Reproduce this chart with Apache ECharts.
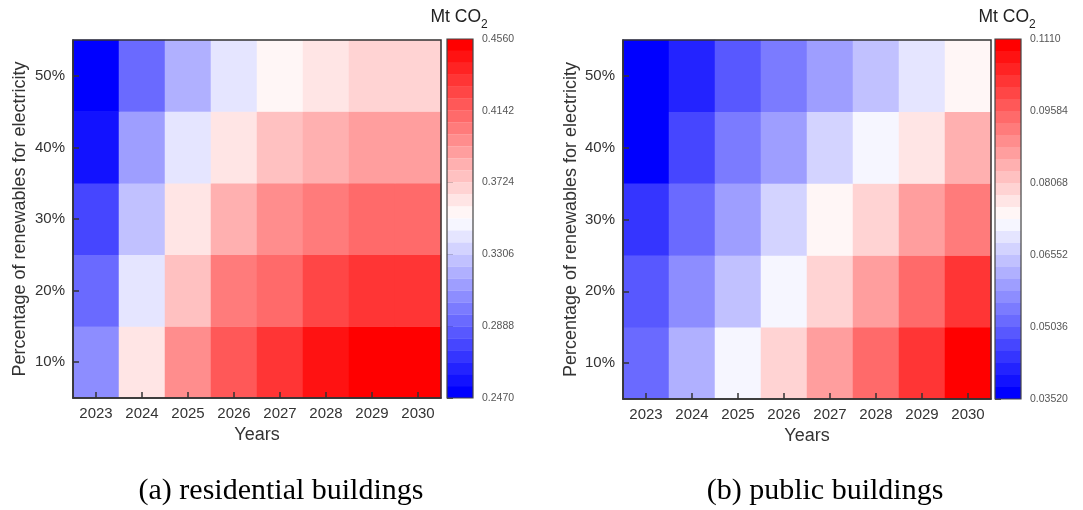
<!DOCTYPE html>
<html>
<head>
<meta charset="utf-8">
<title>Emissions heatmaps</title>
<script src="https://cdn.jsdelivr.net/npm/echarts@6/dist/echarts.min.js"></script>
<style>
  html, body { margin: 0; padding: 0; background: #fff; }
  #chart { width: 1083px; height: 510px; }
</style>
</head>
<body>
<div id="chart"></div>
<script>
// Categories
const years = ['2023', '2024', '2025', '2026', '2027', '2028', '2029', '2030'];
const shares = ['10%', '20%', '30%', '40%', '50%'];

// Residential buildings, Mt CO2, one array per renewables share (2023..2030)
const res10 = [0.3062, 0.3620, 0.3968, 0.4177, 0.4316, 0.4456, 0.4525, 0.4540];
const res20 = [0.2923, 0.3411, 0.3759, 0.4038, 0.4107, 0.4247, 0.4316, 0.4330];
const res30 = [0.2784, 0.3271, 0.3620, 0.3829, 0.3968, 0.4038, 0.4107, 0.4120];
const res40 = [0.2575, 0.3132, 0.3411, 0.3620, 0.3759, 0.3829, 0.3898, 0.3910];
const res50 = [0.2475, 0.2923, 0.3202, 0.3411, 0.3550, 0.3620, 0.3689, 0.3700];

// Public buildings, Mt CO2
const pub10 = [0.0516, 0.0617, 0.0718, 0.0794, 0.0870, 0.0946, 0.1022, 0.1100];
const pub20 = [0.0491, 0.0567, 0.0643, 0.0718, 0.0794, 0.0870, 0.0946, 0.1022];
const pub30 = [0.0440, 0.0516, 0.0592, 0.0668, 0.0744, 0.0794, 0.0870, 0.0921];
const pub40 = [0.0366, 0.0466, 0.0542, 0.0592, 0.0668, 0.0718, 0.0769, 0.0845];
const pub50 = [0.0360, 0.0415, 0.0491, 0.0542, 0.0592, 0.0643, 0.0693, 0.0744];

// Colour-scale ranges and tick labels
const resRange = [0.2470, 0.4560];
const pubRange = [0.03520, 0.1110];
const resTicks = ['0.2470', '0.2888', '0.3306', '0.3724', '0.4142', '0.4560'];
const pubTicks = ['0.03520', '0.05036', '0.06552', '0.08068', '0.09584', '0.1110'];

const LEVELS = 30;
const FONT = 'Liberation Sans, Arial, sans-serif';

function toCells(rows) {
  const out = [];
  rows.forEach((row, yi) => row.forEach((v, xi) => out.push([xi, yi, v])));
  return out;
}

// Blue - white - red diverging map, split into discrete levels
function levelColor(k) {
  const t = k / (LEVELS - 1);
  let r, g, b;
  if (t < 0.5) {
    const s = t / 0.5;
    r = Math.round(255 * s); g = r; b = 255;
  } else {
    const s = (1 - t) / 0.5;
    r = 255; g = Math.round(255 * s); b = g;
  }
  return 'rgb(' + r + ',' + g + ',' + b + ')';
}

function pieces(range) {
  const step = (range[1] - range[0]) / LEVELS;
  const list = [];
  for (let k = 0; k < LEVELS; k++) {
    const p = { gte: range[0] + k * step, color: levelColor(k) };
    if (k === LEVELS - 1) p.lte = range[1]; else p.lt = range[0] + (k + 1) * step;
    list.push(p);
  }
  return list;
}

// Panel geometry
const panels = [
  { left: 73, top: 40, width: 368, height: 358, barLeft: 447, barTop: 39, barH: 359 },
  { left: 623, top: 40, width: 368, height: 359, barLeft: 995, barTop: 39, barH: 360 }
];
const BAR_W = 26;

const resData = toCells([res10, res20, res30, res40, res50]);
const pubData = toCells([pub10, pub20, pub30, pub40, pub50]);

const grids = [], xAxes = [], yAxes = [], series = [], visualMaps = [], graphics = [];

const tickStyle = { show: true, inside: true, alignWithLabel: true, length: 6,
  lineStyle: { color: '#333', width: 1.5 } };

[[resData, resRange, resTicks, 44], [pubData, pubRange, pubTicks, 43]].forEach((cfg, i) => {
  const [data, range, ticks, yGap] = cfg;
  const p = panels[i];
  // heatmap grid (frame drawn on the upper layer)
  grids.push({ left: p.left, top: p.top, width: p.width, height: p.height,
    show: true, zlevel: 1, backgroundColor: 'transparent', borderColor: '#333', borderWidth: 1.5 });
  // colour bar tick grid
  grids.push({ left: p.barLeft, top: p.barTop, width: BAR_W, height: p.barH, show: false });

  xAxes.push({
    gridIndex: 2 * i, type: 'category', data: years, zlevel: 1,
    name: 'Years', nameLocation: 'middle', nameGap: 27,
    nameTextStyle: { fontFamily: FONT, fontSize: 18, color: '#333' },
    axisLine: { show: true, lineStyle: { color: '#333', width: 1.5 } },
    axisTick: tickStyle,
    axisLabel: { fontFamily: FONT, fontSize: 15, color: '#333', margin: 8 },
    splitLine: { show: false }
  });
  xAxes.push({ gridIndex: 2 * i + 1, type: 'value', show: false, min: 0, max: 1 });

  yAxes.push({
    gridIndex: 2 * i, type: 'category', data: shares, zlevel: 1,
    name: 'Percentage of renewables for electricity', nameLocation: 'middle', nameGap: yGap,
    nameTextStyle: { fontFamily: FONT, fontSize: 18, color: '#333' },
    axisLine: { show: true, lineStyle: { color: '#333', width: 1.5 } },
    axisTick: tickStyle,
    axisLabel: { fontFamily: FONT, fontSize: 15, color: '#333', margin: 8 },
    splitLine: { show: false }
  });
  yAxes.push({
    gridIndex: 2 * i + 1, type: 'value', min: 0, max: ticks.length - 1, interval: 1,
    position: 'right',
    axisLine: { show: false },
    axisTick: { show: true, length: 6, lineStyle: { color: '#555', width: 1 } },
    axisLabel: { fontFamily: FONT, fontSize: 10.5, color: '#555', margin: 9,
      formatter: (v) => ticks[Math.round(v)] },
    splitLine: { show: false }
  });

  series.push({
    type: 'heatmap', xAxisIndex: 2 * i, yAxisIndex: 2 * i, data: data, z: 1,
    emphasis: { disabled: true }, itemStyle: { borderWidth: 0 }
  });

  visualMaps.push({
    type: 'piecewise', seriesIndex: i, dimension: 2,
    pieces: pieces(range), orient: 'vertical',
    left: p.barLeft, top: p.barTop, padding: 0,
    itemWidth: BAR_W, itemHeight: p.barH / LEVELS, itemGap: 0,
    itemSymbol: 'rect', showLabel: false, selectedMode: false, hoverLink: false
  });

  // colour bar frame
  graphics.push({ type: 'rect', z: 100, silent: true,
    shape: { x: p.barLeft, y: p.barTop, width: BAR_W, height: p.barH },
    style: { fill: null, stroke: '#444', lineWidth: 1.2 } });

  // unit label above the colour bar
  const cx = p.barLeft + BAR_W / 2;
  graphics.push({ type: 'text', z: 100, silent: true, x: cx - 29.5, y: 17,
    style: { text: 'Mt CO', font: '17.5px ' + FONT, fill: '#222', align: 'left', verticalAlign: 'middle' } });
  graphics.push({ type: 'text', z: 100, silent: true, x: cx + 21, y: 25,
    style: { text: '2', font: '12px ' + FONT, fill: '#222', align: 'left', verticalAlign: 'middle' } });
});

// panel captions
graphics.push({ type: 'text', silent: true, x: 281, y: 491,
  style: { text: '(a) residential buildings', font: '30px Liberation Serif, Times New Roman, serif',
    fill: '#000', align: 'center', verticalAlign: 'middle' } });
graphics.push({ type: 'text', silent: true, x: 825, y: 491,
  style: { text: '(b) public buildings', font: '30px Liberation Serif, Times New Roman, serif',
    fill: '#000', align: 'center', verticalAlign: 'middle' } });

const chart = echarts.init(document.getElementById('chart'), null, { renderer: 'canvas' });
chart.setOption({
  backgroundColor: '#fff',
  animation: false,
  grid: grids,
  xAxis: xAxes,
  yAxis: yAxes,
  visualMap: visualMaps,
  series: series,
  graphic: graphics
});
</script>
</body>
</html>
